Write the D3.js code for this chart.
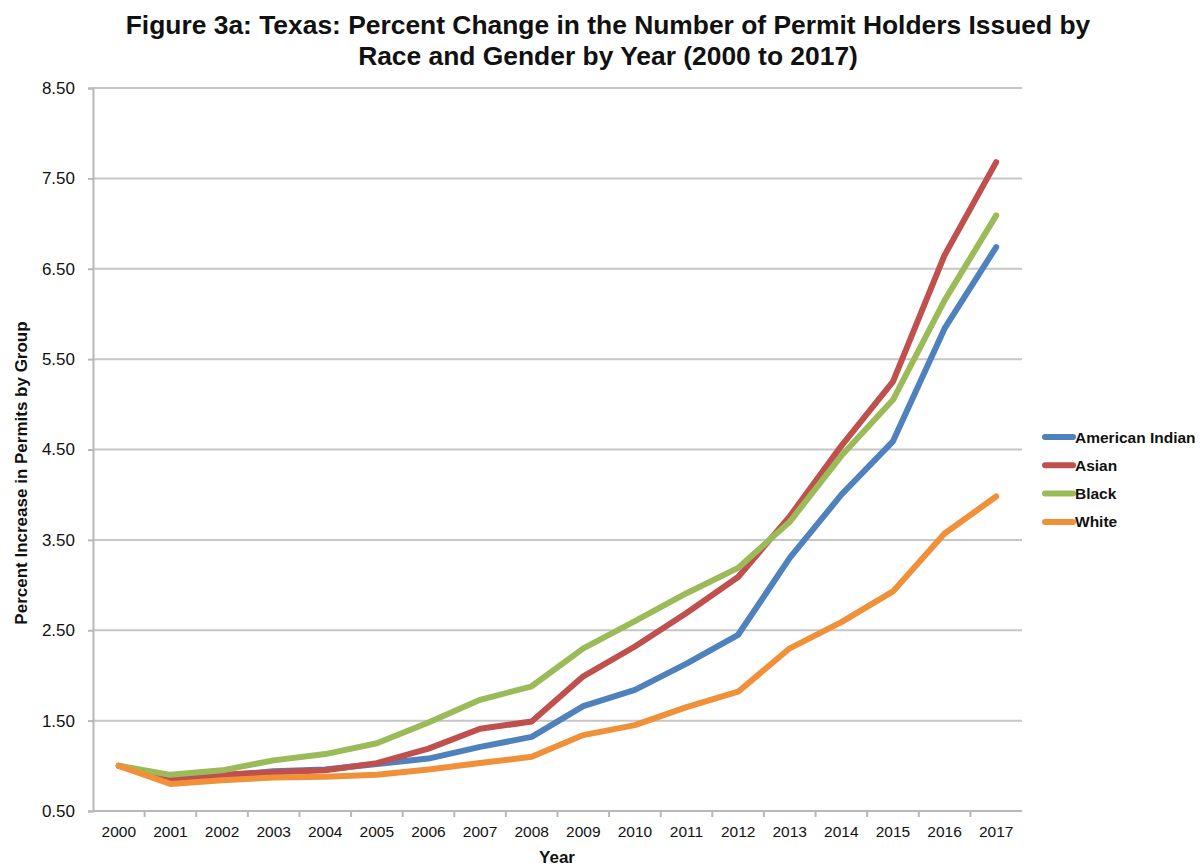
<!DOCTYPE html>
<html lang="en">
<head>
<meta charset="UTF-8">
<title>Figure 3a</title>
<script src="https://d3js.org/d3.v7.min.js"></script>
<style>
  body { margin: 0; background: #fff; font-family: "Liberation Sans", Arial, sans-serif; }
</style>
</head>
<body>
<script>
// Data
const years = ["2000","2001","2002","2003","2004","2005","2006","2007","2008",
               "2009","2010","2011","2012","2013","2014","2015","2016","2017"];
const americanIndian = [1.00,0.85,0.89,0.94,0.96,1.02,1.08,1.21,1.32,1.66,1.84,2.13,2.45,3.30,4.00,4.59,5.84,6.74];
const asian          = [1.00,0.86,0.90,0.93,0.95,1.03,1.19,1.41,1.49,1.99,2.32,2.69,3.09,3.76,4.54,5.25,6.65,7.68];
const black          = [1.00,0.90,0.95,1.06,1.13,1.25,1.48,1.73,1.88,2.30,2.60,2.91,3.19,3.70,4.43,5.05,6.15,7.09];
const white          = [1.00,0.80,0.84,0.87,0.88,0.90,0.96,1.03,1.10,1.34,1.45,1.65,1.82,2.30,2.59,2.93,3.57,3.98];
const seriesNames  = ["American Indian","Asian","Black","White"];
const seriesColors = ["#4f81bd","#c0504d","#9bbb59","#f0913a"];
const yTicks = [0.5,1.5,2.5,3.5,4.5,5.5,6.5,7.5,8.5];

const series = [americanIndian, asian, black, white].map((vals, i) => ({
  name: seriesNames[i], color: seriesColors[i], values: vals
}));

const width = 1201, height = 867;
const margin = { top: 88, left: 93, right: 179, bottom: 56 };

const svg = d3.select("body").append("svg")
  .attr("width", width).attr("height", height);

// Title
const title = svg.append("text")
  .attr("text-anchor", "middle")
  .attr("font-weight", "bold")
  .attr("font-size", "26.4px")
  .attr("fill", "#111");
title.append("tspan").attr("x", 608).attr("y", 34)
  .text("Figure 3a: Texas: Percent Change in the Number of Permit Holders Issued by");
title.append("tspan").attr("x", 608).attr("y", 65)
  .text("Race and Gender by Year (2000 to 2017)");

// Scales
const x = d3.scaleBand().domain(years)
  .range([margin.left, width - margin.right]);
const y = d3.scaleLinear().domain([0.5, 8.5])
  .range([height - margin.bottom, margin.top]);

// Horizontal gridlines
svg.append("g").selectAll("line")
  .data(yTicks.slice(1))
  .join("line")
  .attr("x1", margin.left).attr("x2", width - margin.right)
  .attr("y1", d => y(d)).attr("y2", d => y(d))
  .attr("stroke", "#c6c6c6").attr("stroke-width", 2);

// Y axis
const yAxis = svg.append("g")
  .attr("transform", `translate(${margin.left},0)`)
  .call(d3.axisLeft(y).tickValues(yTicks).tickFormat(d3.format(".2f")).tickSize(5).tickPadding(13));
yAxis.select(".domain").attr("stroke", "#b8b8b8").attr("stroke-width", 2);
yAxis.selectAll(".tick line").attr("stroke", "#b8b8b8").attr("stroke-width", 2);
yAxis.selectAll("text").attr("font-size", "17px").attr("fill", "#111")
  .attr("font-family", "Liberation Sans, Arial, sans-serif");

// X axis (ticks between categories)
const xAxisG = svg.append("g")
  .attr("transform", `translate(0,${y(0.5)})`);
xAxisG.append("line")
  .attr("x1", margin.left).attr("x2", width - margin.right)
  .attr("stroke", "#b8b8b8").attr("stroke-width", 2);
xAxisG.selectAll(".sep")
  .data(years.slice(1))
  .join("line")
  .attr("x1", d => x(d)).attr("x2", d => x(d))
  .attr("y1", 0).attr("y2", 6)
  .attr("stroke", "#b8b8b8").attr("stroke-width", 2);
xAxisG.selectAll("text")
  .data(years)
  .join("text")
  .attr("x", d => x(d) + x.bandwidth() / 2)
  .attr("y", 26)
  .attr("text-anchor", "middle")
  .attr("font-size", "15.5px")
  .attr("fill", "#111")
  .text(d => d);

// Axis titles
svg.append("text")
  .attr("x", 557)
  .attr("y", 863)
  .attr("text-anchor", "middle")
  .attr("font-weight", "bold").attr("font-size", "17px").attr("fill", "#111")
  .text("Year");
svg.append("text")
  .attr("transform", "translate(27,473) rotate(-90)")
  .attr("text-anchor", "middle")
  .attr("font-weight", "bold").attr("font-size", "17px").attr("fill", "#111")
  .text("Percent Increase in Permits by Group");

// Lines
const line = d3.line()
  .x((d, i) => x(years[i]) + x.bandwidth() / 2)
  .y(d => y(d));

svg.append("g").selectAll("path")
  .data(series)
  .join("path")
  .attr("d", d => line(d.values))
  .attr("fill", "none")
  .attr("stroke", d => d.color)
  .attr("stroke-width", 6)
  .attr("stroke-linejoin", "round")
  .attr("stroke-linecap", "round");

// Legend
const legend = svg.append("g").attr("transform", "translate(1045,437)");
const item = legend.selectAll("g")
  .data(series)
  .join("g")
  .attr("transform", (d, i) => `translate(0,${i * 28.3})`);
item.append("line")
  .attr("x1", 0).attr("x2", 28)
  .attr("stroke", d => d.color).attr("stroke-width", 6)
  .attr("stroke-linecap", "round");
item.append("text")
  .attr("x", 30).attr("y", 5.5)
  .attr("font-weight", "bold").attr("font-size", "15.5px").attr("fill", "#111")
  .text(d => d.name);
</script>
</body>
</html>
